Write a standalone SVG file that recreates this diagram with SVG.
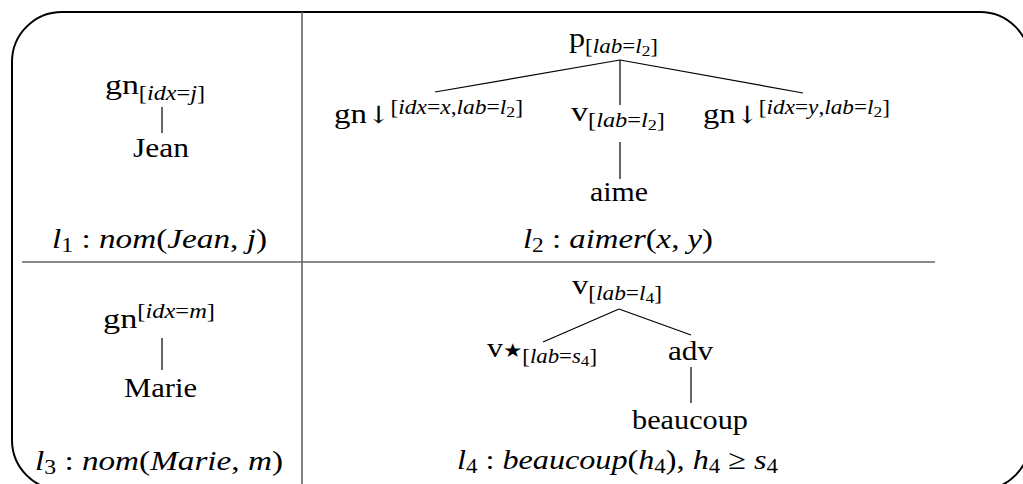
<svg xmlns="http://www.w3.org/2000/svg" width="1023" height="484" viewBox="0 0 1023 484">
<style>
text{font-family:'Liberation Serif','DejaVu Serif',serif}
.r{font-size:28px;fill:#000}
.s{font-size:20px}
.ss{font-size:15px}
.i{font-style:italic}
.ar{font-family:'DejaVu Serif',serif;font-size:24px}
.star{font-family:'DejaVu Sans',sans-serif;font-size:19px}
.t{stroke:#000;stroke-width:1.2;fill:none}
.g{stroke:#666;stroke-width:1.6;fill:none}
</style>
<rect x="12" y="12" width="1018" height="478" rx="50" ry="50" fill="#fff" stroke="#000" stroke-width="2"/>
<g id="table">
<line class="g" x1="302" y1="12" x2="302" y2="484"/>
<line class="g" x1="22" y1="262" x2="935" y2="262"/>
</g>
<g id="connectors">
<line class="t" x1="162" y1="107" x2="162" y2="133"/>
<line class="t" x1="620" y1="60" x2="435" y2="92"/>
<line class="t" x1="620" y1="60" x2="620" y2="105"/>
<line class="t" x1="620" y1="60" x2="803" y2="93"/>
<line class="t" x1="620" y1="142" x2="620" y2="179"/>
<line class="t" x1="162" y1="338" x2="162" y2="370"/>
<line class="t" x1="619" y1="309" x2="543" y2="342"/>
<line class="t" x1="619" y1="309" x2="691" y2="335"/>
<line class="t" x1="691" y1="367" x2="691" y2="403"/>
</g>
<g id="n-gn-j"><text class="r" x="105" y="94" textLength="100" lengthAdjust="spacingAndGlyphs">gn<tspan class="s" dy="6">[<tspan class="i">idx</tspan>=<tspan class="i">j</tspan>]</tspan></text></g>
<g id="n-jean"><text class="r" x="133" y="157" textLength="56" lengthAdjust="spacingAndGlyphs">Jean</text></g>
<g id="f-l1"><text class="r" x="52" y="248" textLength="215" lengthAdjust="spacingAndGlyphs"><tspan class="i">l</tspan><tspan class="s" dy="4">1</tspan><tspan dy="-4"> : </tspan><tspan class="i">nom</tspan>(<tspan class="i">Jean</tspan>, <tspan class="i">j</tspan>)</text></g>
<g id="n-p"><text class="r" x="569" y="47" textLength="89" lengthAdjust="spacingAndGlyphs">p<tspan class="s" dy="6">[<tspan class="i">lab</tspan>=<tspan class="i">l</tspan><tspan class="ss" dy="3">2</tspan><tspan dy="-3">]</tspan></tspan></text></g>
<g id="n-gn-x"><text class="r" x="334" y="123" textLength="189" lengthAdjust="spacingAndGlyphs">gn<tspan class="ar">↓</tspan><tspan class="s" dy="-9">[<tspan class="i">idx</tspan>=<tspan class="i">x</tspan>,<tspan class="i">lab</tspan>=<tspan class="i">l</tspan><tspan class="ss" dy="3">2</tspan><tspan dy="-3">]</tspan></tspan></text></g>
<g id="n-v-l2"><text class="r" x="571" y="121" textLength="94" lengthAdjust="spacingAndGlyphs">v<tspan class="s" dy="6">[<tspan class="i">lab</tspan>=<tspan class="i">l</tspan><tspan class="ss" dy="3">2</tspan><tspan dy="-3">]</tspan></tspan></text></g>
<g id="n-aime"><text class="r" x="590" y="201" textLength="58" lengthAdjust="spacingAndGlyphs">aime</text></g>
<g id="n-gn-y"><text class="r" x="703" y="123" textLength="187" lengthAdjust="spacingAndGlyphs">gn<tspan class="ar">↓</tspan><tspan class="s" dy="-9">[<tspan class="i">idx</tspan>=<tspan class="i">y</tspan>,<tspan class="i">lab</tspan>=<tspan class="i">l</tspan><tspan class="ss" dy="3">2</tspan><tspan dy="-3">]</tspan></tspan></text></g>
<g id="f-l2"><text class="r" x="523" y="248" textLength="190" lengthAdjust="spacingAndGlyphs"><tspan class="i">l</tspan><tspan class="s" dy="4">2</tspan><tspan dy="-4"> : </tspan><tspan class="i">aimer</tspan>(<tspan class="i">x</tspan>, <tspan class="i">y</tspan>)</text></g>
<g id="n-gn-m"><text class="r" x="103" y="328" textLength="112" lengthAdjust="spacingAndGlyphs">gn<tspan class="s" dy="-10">[<tspan class="i">idx</tspan>=<tspan class="i">m</tspan>]</tspan></text></g>
<g id="n-marie"><text class="r" x="124" y="397" textLength="73" lengthAdjust="spacingAndGlyphs">Marie</text></g>
<g id="f-l3"><text class="r" x="35" y="470" textLength="248" lengthAdjust="spacingAndGlyphs"><tspan class="i">l</tspan><tspan class="s" dy="4">3</tspan><tspan dy="-4"> : </tspan><tspan class="i">nom</tspan>(<tspan class="i">Marie</tspan>, <tspan class="i">m</tspan>)</text></g>
<g id="n-v-l4"><text class="r" x="572" y="294" textLength="90" lengthAdjust="spacingAndGlyphs">v<tspan class="s" dy="6">[<tspan class="i">lab</tspan>=<tspan class="i">l</tspan><tspan class="ss" dy="3">4</tspan><tspan dy="-3">]</tspan></tspan></text></g>
<g id="n-vstar"><text class="r" x="487" y="357" textLength="110" lengthAdjust="spacingAndGlyphs">v<tspan class="star">★</tspan><tspan class="s" dy="6">[<tspan class="i">lab</tspan>=<tspan class="i">s</tspan><tspan class="ss" dy="3">4</tspan><tspan dy="-3">]</tspan></tspan></text></g>
<g id="n-adv"><text class="r" x="668" y="360" textLength="45" lengthAdjust="spacingAndGlyphs">adv</text></g>
<g id="n-beaucoup"><text class="r" x="632" y="429" textLength="116" lengthAdjust="spacingAndGlyphs">beaucoup</text></g>
<g id="f-l4"><text class="r" x="457" y="469" textLength="321" lengthAdjust="spacingAndGlyphs"><tspan class="i">l</tspan><tspan class="s" dy="4">4</tspan><tspan dy="-4"> : </tspan><tspan class="i">beaucoup</tspan>(<tspan class="i">h</tspan><tspan class="s" dy="4">4</tspan><tspan dy="-4">), </tspan><tspan class="i">h</tspan><tspan class="s" dy="4">4</tspan><tspan dy="-4"> ≥ </tspan><tspan class="i">s</tspan><tspan class="s" dy="4">4</tspan></text></g>
</svg>
